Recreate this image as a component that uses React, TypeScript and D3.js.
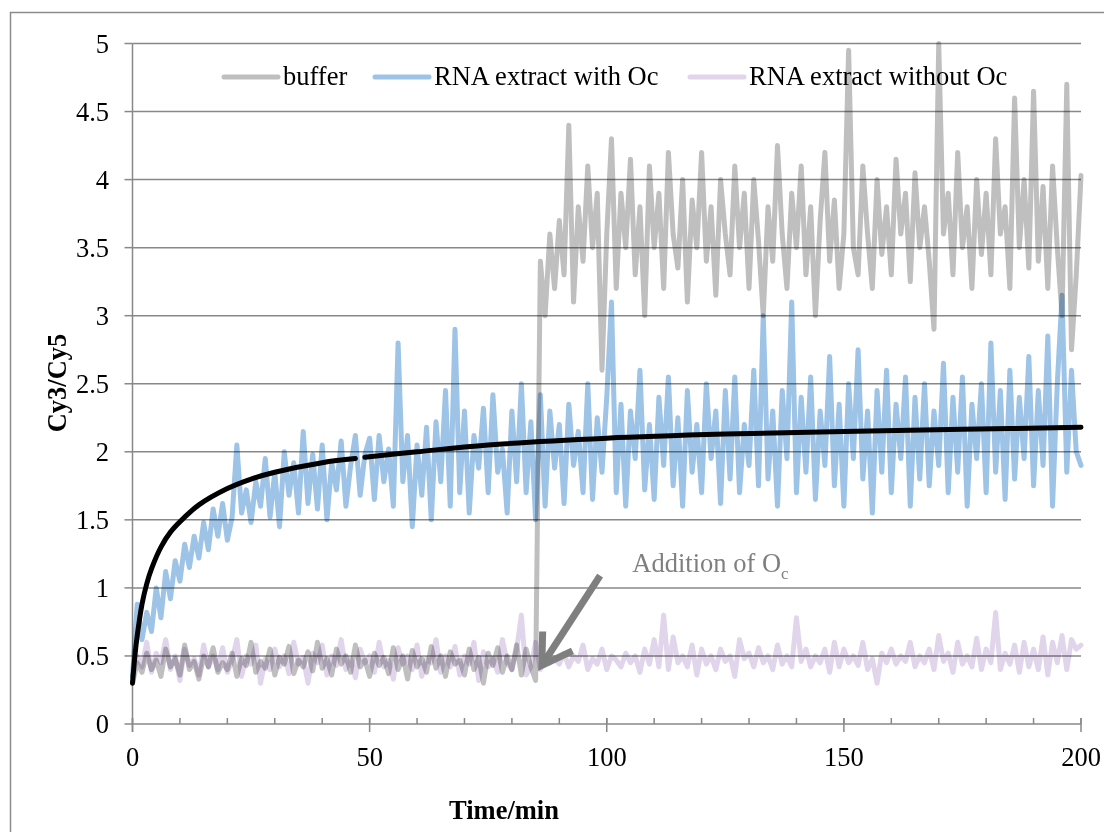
import * as d3 from "d3";
import React from "react";

// Cy3/Cy5 ratio, one reading per minute (t = 0..200)
const bufferVals = [
  0.3, 0.45, 0.38, 0.52, 0.4, 0.47, 0.35, 0.55, 0.42, 0.48,
  0.36, 0.58, 0.4, 0.46, 0.33, 0.5, 0.42, 0.56, 0.38, 0.45,
  0.4, 0.52, 0.35, 0.48, 0.43, 0.6, 0.38, 0.46, 0.41, 0.55,
  0.36, 0.49, 0.44, 0.57, 0.37, 0.47, 0.42, 0.53, 0.39, 0.6,
  0.41, 0.48, 0.36, 0.55, 0.44, 0.5, 0.38, 0.58, 0.42, 0.47,
  0.35, 0.52, 0.43, 0.49, 0.37, 0.56, 0.4, 0.5, 0.33, 0.54,
  0.42, 0.48, 0.38, 0.57, 0.41, 0.5, 0.35, 0.53, 0.44, 0.47,
  0.36, 0.55, 0.4, 0.49, 0.3, 0.52, 0.43, 0.56, 0.38, 0.5,
  0.4, 0.58, 0.36, 0.55, 0.42, 0.32, 3.4, 3.0, 3.6, 3.2,
  3.7, 3.3, 4.4, 3.1, 3.8, 3.4, 4.1, 3.5, 3.9, 2.6,
  3.6, 4.3, 3.2, 3.9, 3.5, 4.15, 3.3, 3.8, 3.0, 4.1,
  3.5, 3.9, 3.2, 4.2, 3.6, 3.35, 4.0, 3.1, 3.85, 3.5,
  4.2, 3.4, 3.8, 3.15, 4.0, 3.6, 3.3, 4.1, 3.5, 3.9,
  3.2, 4.0, 3.55, 3.0, 3.8, 3.4, 4.25, 3.6, 3.2, 3.9,
  3.5, 4.1, 3.3, 3.8, 3.0, 3.7, 4.2, 3.4, 3.85, 3.2,
  3.6, 4.95, 3.5, 3.3, 4.1, 3.6, 3.2, 4.0, 3.45, 3.8,
  3.3, 4.15, 3.6, 3.9, 3.25, 4.05, 3.5, 3.8, 3.4, 2.9,
  5.0, 3.6, 3.9, 3.3, 4.2, 3.5, 3.8, 3.2, 4.0, 3.45,
  3.9, 3.3, 4.3, 3.6, 3.8, 3.2, 4.6, 3.5, 4.0, 3.35,
  4.65, 3.4, 3.95, 3.2, 4.1, 3.5, 3.0, 4.7, 2.75, 3.3,
  4.03,
];

const withOcVals = [
  0.35, 0.88, 0.62, 0.82, 0.68, 1.0, 0.78, 1.12, 0.92, 1.2,
  1.05, 1.32, 1.15, 1.38, 1.22, 1.48, 1.28, 1.58, 1.38, 1.62,
  1.35, 1.52, 2.05, 1.55, 1.72, 1.48, 1.78, 1.6, 1.95, 1.52,
  1.85, 1.45, 2.0, 1.68, 1.92, 1.55, 2.15, 1.62, 1.98, 1.58,
  2.05, 1.5, 1.92, 1.72, 2.08, 1.6, 1.9, 2.12, 1.68, 1.98,
  2.1, 1.65, 2.12, 1.78, 2.02, 1.6, 2.8, 1.78, 2.12, 1.45,
  2.05, 1.68, 2.18, 1.5, 2.22, 1.78, 2.45, 1.6, 2.9, 1.7,
  2.3, 1.55, 2.12, 1.88, 2.32, 1.7, 2.42, 1.85, 2.02, 1.55,
  2.3, 1.78, 2.5, 1.7, 2.22, 1.5, 2.42, 1.6, 2.3, 1.88,
  2.2, 1.62, 2.35, 1.9, 2.15, 1.7, 2.5, 1.65, 2.25, 1.85,
  2.4, 3.1, 1.7, 2.35, 1.6, 2.3, 1.95, 2.6, 1.72, 2.2,
  1.65, 2.4, 1.9, 2.55, 1.75, 2.25, 1.6, 2.45, 1.85, 2.2,
  1.7, 2.5, 1.95, 2.3, 1.62, 2.45, 1.8, 2.55, 1.7, 2.2,
  1.9, 2.6, 1.75, 3.0, 1.8, 2.3, 1.6, 2.45, 1.95, 3.1,
  1.7, 2.4, 1.85, 2.55, 1.65, 2.3, 1.9, 2.7, 1.75, 2.35,
  1.6, 2.5, 1.95, 2.75, 1.8, 2.3, 1.55, 2.45, 1.85, 2.6,
  1.7, 2.35, 1.95, 2.55, 1.6, 2.4, 1.8, 2.5, 1.75, 2.3,
  1.9, 2.65, 1.7, 2.4, 1.85, 2.55, 1.6, 2.35, 1.95, 2.5,
  1.7, 2.8, 1.85, 2.45, 1.65, 2.6, 1.8, 2.4, 1.95, 2.7,
  1.75, 2.45, 1.9, 2.85, 1.6, 2.5, 3.15, 1.85, 2.6, 2.0,
  1.9,
];

const withoutOcVals = [
  0.35, 0.5, 0.42, 0.6, 0.38, 0.52, 0.45, 0.62, 0.4, 0.5,
  0.32, 0.55, 0.43, 0.48, 0.36, 0.58, 0.42, 0.5, 0.4, 0.56,
  0.38, 0.47, 0.62, 0.35, 0.5, 0.44, 0.58, 0.3, 0.48, 0.4,
  0.55, 0.42, 0.5, 0.37, 0.6, 0.44, 0.49, 0.3, 0.52, 0.45,
  0.58, 0.36, 0.5, 0.43, 0.62, 0.4, 0.48, 0.34, 0.55, 0.45,
  0.5, 0.38, 0.6, 0.42, 0.47, 0.33, 0.56, 0.44, 0.5, 0.4,
  0.58, 0.35, 0.48, 0.45, 0.62, 0.38, 0.5, 0.42, 0.57, 0.36,
  0.5, 0.44, 0.6, 0.32, 0.53, 0.42, 0.48, 0.38, 0.62, 0.45,
  0.4, 0.55, 0.8, 0.36, 0.42, 0.6, 0.4, 0.5, 0.45, 0.48,
  0.44, 0.52, 0.42, 0.5, 0.46, 0.58, 0.4, 0.48, 0.44, 0.55,
  0.4, 0.5, 0.47, 0.42, 0.52, 0.45, 0.5, 0.38, 0.55, 0.44,
  0.62, 0.42, 0.8, 0.4, 0.64, 0.45, 0.5, 0.42, 0.58, 0.36,
  0.55, 0.44, 0.5, 0.4, 0.55, 0.46, 0.5, 0.35, 0.62, 0.48,
  0.52, 0.42, 0.56, 0.45, 0.5, 0.4, 0.58, 0.44, 0.5, 0.42,
  0.78, 0.46, 0.55, 0.42, 0.5, 0.45, 0.55, 0.38, 0.6, 0.42,
  0.55, 0.45, 0.5, 0.43, 0.6, 0.4, 0.48, 0.3, 0.52, 0.45,
  0.55, 0.44, 0.5, 0.46, 0.6, 0.42, 0.5, 0.45, 0.55, 0.4,
  0.65, 0.46, 0.52, 0.38, 0.6, 0.44, 0.5, 0.42, 0.63, 0.4,
  0.55, 0.45, 0.82, 0.4, 0.52, 0.44, 0.58, 0.38, 0.6, 0.42,
  0.55, 0.4, 0.64, 0.36, 0.6, 0.45, 0.65, 0.4, 0.62, 0.55,
  0.58,
];

// fitted curve (two pieces, small gap near 48 min)
const fitTimesA = [0, 0.5, 1, 2, 3, 4, 6, 8, 11, 14, 20, 25, 30, 40, 47];
const fitValsA = [0.3, 0.5, 0.65, 0.88, 1.03, 1.14, 1.3, 1.41, 1.52, 1.61, 1.73, 1.8, 1.85, 1.92, 1.95];
const fitTimesB = [49, 60, 75, 100, 125, 150, 175, 200];
const fitValsB = [1.96, 2.0, 2.05, 2.1, 2.13, 2.15, 2.165, 2.18];

const legendNames = ["buffer", "RNA extract with Oc", "RNA extract without Oc"];
const legendColors = ["#bfbfbf", "#9dc3e6", "#e1d5eb"];
const yTicks = [0, 0.5, 1, 1.5, 2, 2.5, 3, 3.5, 4, 4.5, 5];
const xMajor = [0, 50, 100, 150, 200];
const xMinor = d3.range(0, 201, 10);

const FONT = "'Liberation Serif', 'Times New Roman', serif";

export default function App() {
  const width = 1104;
  const height = 832;
  const x = d3.scaleLinear().domain([0, 200]).range([132.5, 1081]);
  const y = d3.scaleLinear().domain([0, 5]).range([724, 43.5]);

  const toPts = (vals: number[]) => vals.map((v, i) => [i, v] as [number, number]);
  const line = d3.line<[number, number]>()
    .x(d => x(d[0]))
    .y(d => y(d[1]));
  const smooth = d3.line<[number, number]>()
    .x(d => x(d[0]))
    .y(d => y(d[1]))
    .curve(d3.curveCatmullRom.alpha(0.5));

  const fitA = fitTimesA.map((t, i) => [t, fitValsA[i]] as [number, number]);
  const fitB = fitTimesB.map((t, i) => [t, fitValsB[i]] as [number, number]);

  // annotation arrow (data coordinates)
  const tail = [x(98.6), y(1.09)];
  const tip = [x(86.3), y(0.43)];
  const ang = Math.atan2(tip[1] - tail[1], tip[0] - tail[0]);
  const armLen = 34;
  const arm = (da: number) => [tip[0] - armLen * Math.cos(ang + da), tip[1] - armLen * Math.sin(ang + da)];
  const a1 = arm(0.55);
  const a2 = arm(-0.55);

  const legendStarts = [224, 375, 690];
  const fs = 26.5;

  return (
    <svg width={width} height={height} style={{ position: "absolute", left: 0, top: 0, background: "#fff" }}>
      <rect x={10.5} y={12.5} width={1100} height={830} fill="#fff" stroke="#8c8c8c" strokeWidth={1.5} />

      {/* gridlines */}
      {yTicks.map(t => (
        <line key={"g" + t} x1={x(0)} x2={x(200)} y1={y(t)} y2={y(t)} stroke="#888" strokeWidth={1.5} />
      ))}
      {yTicks.map(t => (
        <line key={"yt" + t} x1={x(0) - 8} x2={x(0)} y1={y(t)} y2={y(t)} stroke="#888" strokeWidth={1.5} />
      ))}
      <line x1={x(0)} x2={x(0)} y1={y(5)} y2={y(0) + 8} stroke="#888" strokeWidth={1.5} />
      {xMinor.map(t => (
        <line key={"mn" + t} x1={x(t)} x2={x(t)} y1={y(0) - 6} y2={y(0)} stroke="#888" strokeWidth={1.5} />
      ))}
      {xMajor.map(t => (
        <line key={"mj" + t} x1={x(t)} x2={x(t)} y1={y(0) - 6} y2={y(0) + 8} stroke="#888" strokeWidth={1.5} />
      ))}

      {/* tick labels */}
      {yTicks.map(t => (
        <text key={"yl" + t} x={109} y={y(t)} dy="0.35em" textAnchor="end" fontFamily={FONT} fontSize={fs} fill="#000">
          {t}
        </text>
      ))}
      {xMajor.map(t => (
        <text key={"xl" + t} x={x(t)} y={766} textAnchor="middle" fontFamily={FONT} fontSize={fs} fill="#000">
          {t}
        </text>
      ))}

      {/* series, multiplied so overlaps darken like the original */}
      <g fill="none" strokeWidth={5} strokeLinejoin="round" strokeLinecap="round">
        <path d={line(toPts(bufferVals)) || ""} stroke={legendColors[0]} style={{ mixBlendMode: "multiply" }} />
        <path d={line(toPts(withOcVals)) || ""} stroke={legendColors[1]} style={{ mixBlendMode: "multiply" }} />
        <path d={line(toPts(withoutOcVals)) || ""} stroke={legendColors[2]} style={{ mixBlendMode: "multiply" }} />
        <path d={smooth(fitA) || ""} stroke="#000" strokeWidth={5} />
        <path d={smooth(fitB) || ""} stroke="#000" strokeWidth={5} />
      </g>

      {/* legend */}
      {legendNames.map((name, i) => (
        <g key={name}>
          <line x1={legendStarts[i]} x2={legendStarts[i] + 54} y1={77} y2={77} stroke={legendColors[i]} strokeWidth={5} strokeLinecap="round" />
          <text x={legendStarts[i] + 59} y={85} fontFamily={FONT} fontSize={fs} fill="#000">{name}</text>
        </g>
      ))}

      {/* annotation */}
      <g stroke="#7f7f7f" strokeWidth={7} fill="none" strokeLinecap="butt" strokeLinejoin="miter">
        <line x1={tail[0]} y1={tail[1]} x2={tip[0]} y2={tip[1]} />
        <polyline points={`${a1[0]},${a1[1]} ${tip[0]},${tip[1]} ${a2[0]},${a2[1]}`} />
      </g>
      <text x={x(105.4)} y={572} fontFamily={FONT} fontSize={fs} fill="#7f7f7f">
        Addition of O<tspan fontSize={17} dy={7}>c</tspan>
      </text>

      {/* axis titles */}
      <text transform={`translate(66,383) rotate(-90)`} textAnchor="middle" fontFamily={FONT} fontSize={fs} fontWeight="bold" fill="#000">
        Cy3/Cy5
      </text>
      <text x={504} y={819} textAnchor="middle" fontFamily={FONT} fontSize={fs} fontWeight="bold" fill="#000">
        Time/min
      </text>
    </svg>
  );
}
